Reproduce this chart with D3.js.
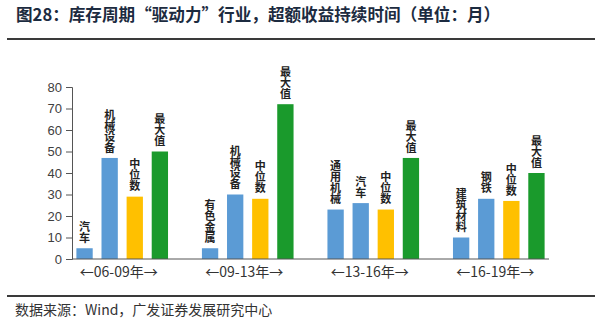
<!DOCTYPE html>
<html><head><meta charset="utf-8">
<script src="https://cdn.jsdelivr.net/npm/d3@7/dist/d3.min.js"></script>
<style>
html,body{margin:0;padding:0;background:#fff;}
svg{display:block;}
</style>
</head><body>
<svg id="c" width="600" height="325"></svg>
<script>
const title = "图28：库存周期“驱动力”行业，超额收益持续时间（单位：月）";
const source = "数据来源：Wind，广发证券发展研究中心";
const periods = ["←06-09年→", "←09-13年→", "←13-16年→", "←16-19年→"];
const barLabels = [
  ["汽车", "机械设备", "中位数", "最大值"],
  ["有色金属", "机械设备", "中位数", "最大值"],
  ["通用机械", "汽车", "中位数", "最大值"],
  ["建筑材料", "钢铁", "中位数", "最大值"]
];
const barValues = [
  [5, 47, 29, 50],
  [5, 30, 28, 72],
  [23, 26, 23, 47],
  [10, 28, 27, 40]
];
const barKinds = ["industry", "industry", "median", "max"];
const yTicks = [0, 10, 20, 30, 40, 50, 60, 70, 80];

const colors = {industry: "#5b9bd5", median: "#ffc000", max: "#1a9a2c"};
const svg = d3.select("#c");
const sans = "'Noto Sans CJK SC', 'Liberation Sans', sans-serif";

// build slot list: 4 bars per period plus a blank slot between periods
const slots = [];
const bars = [];
periods.forEach((p, g) => {
  barValues[g].forEach((v, i) => {
    const key = g + "-" + i;
    slots.push(key);
    bars.push({key, value: v, label: barLabels[g][i], kind: barKinds[i]});
  });
  if (g < periods.length - 1) slots.push("gap-" + g);
});

const x = d3.scaleBand().domain(slots).range([72, 549]).paddingInner(0.35).paddingOuter(0.175);
const y = d3.scaleLinear().domain([0, 80]).range([259, 87]);
const xg = d3.scaleBand().domain(periods).range([56, 558]);

// title
svg.append("text").attr("x", 16).attr("y", 21)
  .attr("font-family", sans).attr("font-weight", "bold").attr("font-size", 16.6)
  .attr("fill", "#1c2b40").text(title);
svg.append("line").attr("x1", 7).attr("x2", 595).attr("y1", 39).attr("y2", 39)
  .attr("stroke", "#3a3a3a").attr("stroke-width", 2);

// y axis
const yAxis = d3.axisLeft(y).tickValues(yTicks).tickSize(6).tickPadding(4);
const ga = svg.append("g").attr("transform", "translate(72,0)").call(yAxis);
ga.select(".domain").attr("stroke", "#555").attr("stroke-width", 1);
ga.selectAll(".tick line").attr("stroke", "#555");
ga.selectAll(".tick text").attr("font-family", "'Liberation Sans', Arial, sans-serif")
  .attr("font-size", 13).attr("fill", "#404040");

// bars
svg.append("g").selectAll("rect").data(bars).join("rect")
  .attr("x", d => x(d.key)).attr("width", x.bandwidth())
  .attr("y", d => y(d.value)).attr("height", d => y(0) - y(d.value))
  .attr("fill", d => colors[d.kind]);

// x axis baseline
svg.append("line").attr("x1", 72).attr("x2", x.range()[1]).attr("y1", y(0)).attr("y2", y(0))
  .attr("stroke", "#555").attr("stroke-width", 1);

// vertical bar labels (upright CJK, one text per label)
svg.append("g").selectAll("text").data(bars).join("text")
  .attr("x", d => x(d.key) + x.bandwidth() / 2)
  .attr("y", d => y(d.value) - 5)
  .attr("font-family", sans).attr("font-weight", "bold").attr("font-size", 11)
  .attr("fill", "#222")
  .style("writing-mode", "vertical-rl").style("text-orientation", "upright")
  .attr("text-anchor", "end")
  .text(d => d.label);

// period labels
svg.append("g").selectAll("text").data(periods).join("text")
  .attr("x", d => xg(d) + xg.bandwidth() / 2).attr("y", 277)
  .attr("text-anchor", "middle").attr("font-family", sans).attr("font-size", 14)
  .attr("fill", "#333").text(d => d);

// footer
svg.append("line").attr("x1", 7).attr("x2", 595).attr("y1", 296).attr("y2", 296)
  .attr("stroke", "#3a3a3a").attr("stroke-width", 2);
svg.append("text").attr("x", 15).attr("y", 315)
  .attr("font-family", sans).attr("font-size", 14).attr("fill", "#333").text(source);
</script>
</body></html>
